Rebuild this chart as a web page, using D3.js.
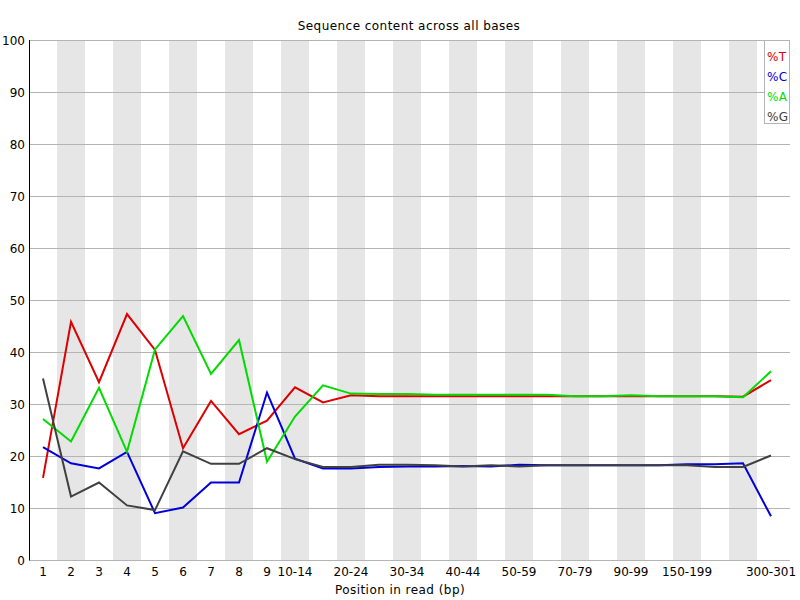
<!DOCTYPE html>
<html>
  <head>
    <meta charset="utf-8" />
    <script src="https://d3js.org/d3.v7.min.js"></script>
    <style>
      body { margin: 0; background: #fff; }
      text { font-family: "DejaVu Sans", sans-serif; font-size: 12px; fill: #000; }
      .wide { letter-spacing: 0.45px; }
      .grid { stroke: #b4b4b4; stroke-width: 1px; }
      .series { fill: none; stroke-width: 2px; stroke-linejoin: miter; }
    </style>
  </head>
  <body>
    <svg id="chart" width="800" height="600"></svg>

    <script>
      var svg = d3.select("#chart");

      // positions along the read
      var positions = ["1", "2", "3", "4", "5", "6", "7", "8", "9",
        "10-14", "15-19", "20-24", "25-29", "30-34", "35-39", "40-44", "45-49",
        "50-59", "60-69", "70-79", "80-89", "90-99",
        "100-149", "150-199", "200-249", "250-299", "300-301"];

      // only these labels are printed under the axis
      var shownLabels = ["1", "2", "3", "4", "5", "6", "7", "8", "9", "10-14", "20-24",
        "30-34", "40-44", "50-59", "70-79", "90-99", "150-199", "300-301"];

      var pctT = [15.8, 45.8, 34.2, 47.3, 40.4, 21.5, 30.6, 24.2, 26.8, 33.2, 30.3, 31.7, 31.5, 31.5,
        31.5, 31.5, 31.5, 31.5, 31.5, 31.5, 31.5, 31.5, 31.5, 31.5, 31.5, 31.4, 34.6];
      var pctC = [21.7, 18.6, 17.6, 20.8, 9.0, 10.1, 14.9, 14.9, 32.2, 19.5, 17.6, 17.6, 17.9, 18.0,
        18.0, 18.1, 18.0, 18.3, 18.2, 18.2, 18.2, 18.2, 18.2, 18.4, 18.4, 18.6, 8.4];
      var pctA = [27.1, 22.8, 33.1, 20.8, 40.5, 46.9, 35.8, 42.3, 18.9, 27.6, 33.6, 32.0, 31.9, 31.9,
        31.8, 31.8, 31.8, 31.8, 31.8, 31.5, 31.5, 31.7, 31.5, 31.5, 31.5, 31.3, 36.3];
      var pctG = [34.9, 12.2, 14.9, 10.5, 9.6, 20.9, 18.5, 18.5, 21.5, 19.4, 17.9, 17.9, 18.3, 18.3,
        18.2, 18.0, 18.2, 18.0, 18.2, 18.2, 18.2, 18.2, 18.2, 18.2, 17.9, 17.9, 20.1];

      var yTicks = [0, 10, 20, 30, 40, 50, 60, 70, 80, 90, 100];

      var seriesNames = ["%T", "%C", "%A", "%G"];
      var seriesColors = ["#dc0000", "#0000dc", "#00dc00", "#404040"];
      var seriesData = [pctT, pctC, pctA, pctG];

      var plotLeft = 29.5, plotRight = 790, plotTop = 40, plotBottom = 560;
      var bandW = 28;

      var x = d3.scaleBand()
        .domain(positions)
        .range([plotLeft - 0.5, plotLeft - 0.5 + bandW * positions.length]);

      var y = d3.scaleLinear()
        .domain([0, 100])
        .range([plotBottom, plotTop]);

      // alternating shaded columns
      svg.append("g").selectAll("rect")
        .data(positions.filter(function(d, i) { return i % 2 == 1; }))
        .enter().append("rect")
        .attr("x", function(d) { return x(d); })
        .attr("y", plotTop)
        .attr("width", x.bandwidth())
        .attr("height", plotBottom - plotTop)
        .attr("fill", "#e6e6e6");

      // horizontal grid lines
      svg.append("g").selectAll("line")
        .data(yTicks)
        .enter().append("line")
        .attr("class", "grid")
        .attr("x1", plotLeft)
        .attr("x2", plotRight)
        .attr("y1", function(d) { return Math.round(y(d)) + 0.5; })
        .attr("y2", function(d) { return Math.round(y(d)) + 0.5; });

      // y axis line
      svg.append("line")
        .attr("x1", plotLeft).attr("x2", plotLeft)
        .attr("y1", plotTop).attr("y2", plotBottom + 0.5)
        .attr("stroke", "#000");

      // y labels
      svg.append("g").selectAll("text")
        .data(yTicks)
        .enter().append("text")
        .attr("x", 25)
        .attr("y", function(d) { return y(d) + 5; })
        .attr("text-anchor", "end")
        .text(function(d) { return d; });

      // x labels
      svg.append("g").selectAll("text")
        .data(shownLabels)
        .enter().append("text")
        .attr("x", function(d) { return x(d) + x.bandwidth() / 2; })
        .attr("y", 576)
        .attr("text-anchor", "middle")
        .text(function(d) { return d; });

      // the four base lines
      var line = d3.line()
        .x(function(d, i) { return x(positions[i]) + x.bandwidth() / 2; })
        .y(function(d) { return y(d); });

      svg.append("g").selectAll("path")
        .data(seriesData)
        .enter().append("path")
        .attr("class", "series")
        .attr("stroke", function(d, i) { return seriesColors[i]; })
        .attr("d", line);

      // titles
      svg.append("text")
        .attr("class", "wide")
        .attr("x", 409)
        .attr("y", 30)
        .attr("text-anchor", "middle")
        .text("Sequence content across all bases");

      svg.append("text")
        .attr("class", "wide")
        .attr("x", 400)
        .attr("y", 594)
        .attr("text-anchor", "middle")
        .text("Position in read (bp)");

      // legend
      var legend = svg.append("g");
      legend.append("rect")
        .attr("x", 764.5).attr("y", 40.5)
        .attr("width", 25).attr("height", 83)
        .attr("fill", "#fff")
        .attr("stroke", "#b4b4b4");

      legend.selectAll("text")
        .data(seriesNames)
        .enter().append("text")
        .attr("class", "wide")
        .attr("x", 767)
        .attr("y", function(d, i) { return 61 + i * 20; })
        .style("fill", function(d, i) { return seriesColors[i]; })
        .text(function(d) { return d; });
    </script>
  </body>
</html>
